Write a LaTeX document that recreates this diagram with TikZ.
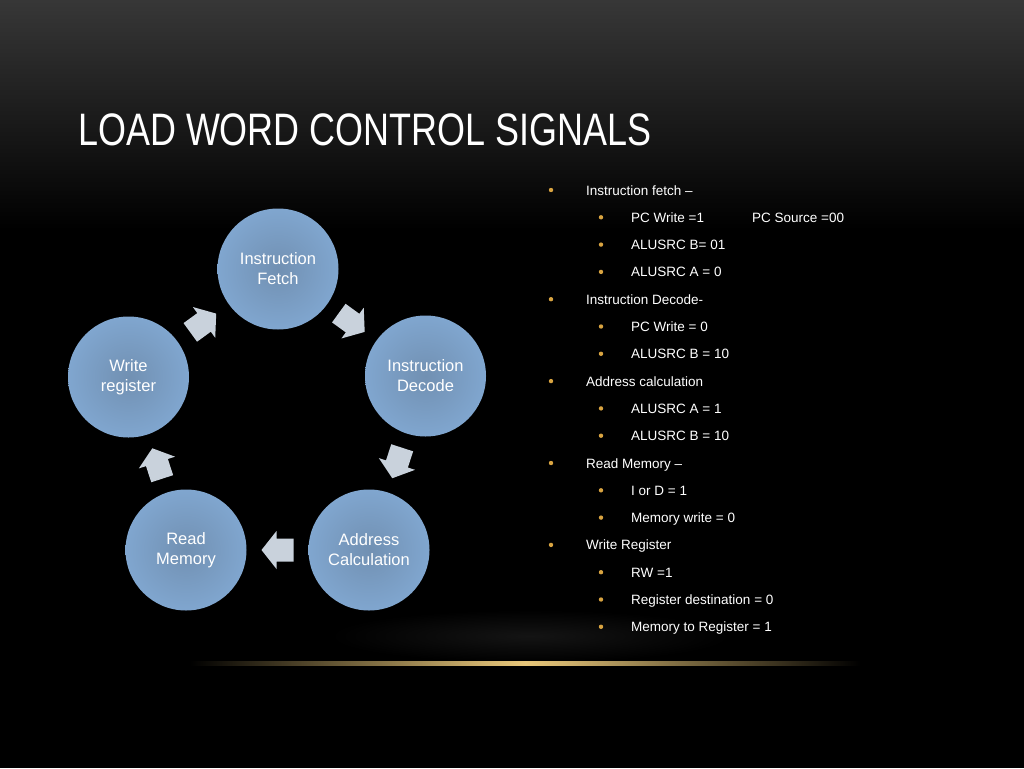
\documentclass[tikz,border=0pt]{standalone}
\usepackage{fontspec}
\setmainfont{Liberation Sans}
\usetikzlibrary{calc}
\definecolor{circin}{HTML}{7190B2}
\definecolor{circout}{HTML}{80A6CF}
\definecolor{arrowfill}{HTML}{C9D2DC}
\definecolor{bulletcol}{HTML}{D9A441}
\definecolor{glow}{HTML}{E8C77A}
\pgfdeclarehorizontalshading{glowline}{100bp}{color(0bp)=(black); color(25bp)=(black); color(30bp)=(glow!20!black); color(40bp)=(glow!60!black); color(47bp)=(glow!90!black); color(50bp)=(glow); color(53bp)=(glow!90!black); color(60bp)=(glow!60!black); color(70bp)=(glow!20!black); color(75bp)=(black); color(100bp)=(black)}
\tikzset{
  stage/.style={circle, minimum size=121pt, inner sep=0pt, inner color=circin, outer color=circout,
    text=white, align=center, font=\fontsize{16.5}{20}\selectfont},
  lvlone/.style={anchor=base west, text=white, font=\fontsize{13.5}{16}\selectfont, inner sep=0pt},
  lvltwo/.style={anchor=base west, text=white, font=\fontsize{13.5}{16}\selectfont, inner sep=0pt},
  bul/.style={circle, fill=bulletcol, inner sep=0pt, minimum size=4.4pt},
  blockarrow/.style={fill=arrowfill, draw=none}
}
\newcommand{\blkarrow}[2]{%
  \begin{scope}[shift={#1}, rotate=#2]
    \fill[blockarrow] (-16,-11.5) -- (1,-11.5) -- (1,-19) -- (16,0) -- (1,19) -- (1,11.5) -- (-16,11.5) -- cycle;
  \end{scope}}
\begin{document}
\begin{tikzpicture}[x=1pt, y=-1pt]
\useasboundingbox (0,0) rectangle (1024,768);
% background
\fill[black] (0,0) rectangle (1024,768);
\shade[top color={rgb,255:red,55;green,55;blue,55}, bottom color=black] (0,0) rectangle (1024,230);
% faint spotlight above the glow line
\shade[inner color={rgb,255:red,20;green,20;blue,20}, outer color=black] (330,610) rectangle (730,662);
% glow line
\shade[shading=glowline] (190,661.5) rectangle (860,665.5);

% title
\node[anchor=base west, text=white, inner sep=0pt, font=\fontsize{45.5}{50}\selectfont] (title) at (78,145) {\scalebox{0.79}[1]{LOAD WORD CONTROL SIGNALS}};

% cycle
\node[stage] (fe) at (278,269) {Instruction\\Fetch};
\node[stage] (de) at (425.5,376) {Instruction\\Decode};
\node[stage] (ad) at (369,550) {Address\\Calculation};
\node[stage] (rm) at (186,550) {Read\\Memory};
\node[stage] (wr) at (128.5,377) {Write\\register};

\blkarrow{($(wr)!0.5!(fe)$)}{36}
\blkarrow{($(fe)!0.5!(de)$)}{-36}
\blkarrow{($(de)!0.5!(ad)$)}{-108}
\blkarrow{($(ad)!0.5!(rm)$)}{180}
\blkarrow{($(rm)!0.5!(wr)$)}{108}

% bullet list
\foreach \yy/\lv/\txt [count=\i] in {
  190/1/{Instruction fetch –},
  217.3/2/{PC Write =1},
  244.6/2/{ALUSRC B= 01},
  271.9/2/{ALUSRC A = 0},
  299.2/1/{Instruction Decode-},
  326.5/2/{PC Write = 0},
  353.8/2/{ALUSRC B = 10},
  381.1/1/{Address calculation},
  408.4/2/{ALUSRC A = 1},
  435.7/2/{ALUSRC B = 10},
  463/1/{Read Memory –},
  490.3/2/{I or D = 1},
  517.6/2/{Memory write = 0},
  544.9/1/{Write Register},
  572.2/2/{RW =1},
  599.5/2/{Register destination = 0},
  626.8/2/{Memory to Register = 1}} {
  \ifnum\lv=1
    \node[bul] (b\i) at (551,\yy) {};
    \node[lvlone] (t\i) at (586,\yy+5) {\txt};
  \else
    \node[bul] (b\i) at (601,\yy) {};
    \node[lvltwo] (t\i) at (631,\yy+5) {\txt};
  \fi
}
\node[lvltwo] (pcsrc) at (752,222.3) {PC Source =00};
\end{tikzpicture}
\end{document}
